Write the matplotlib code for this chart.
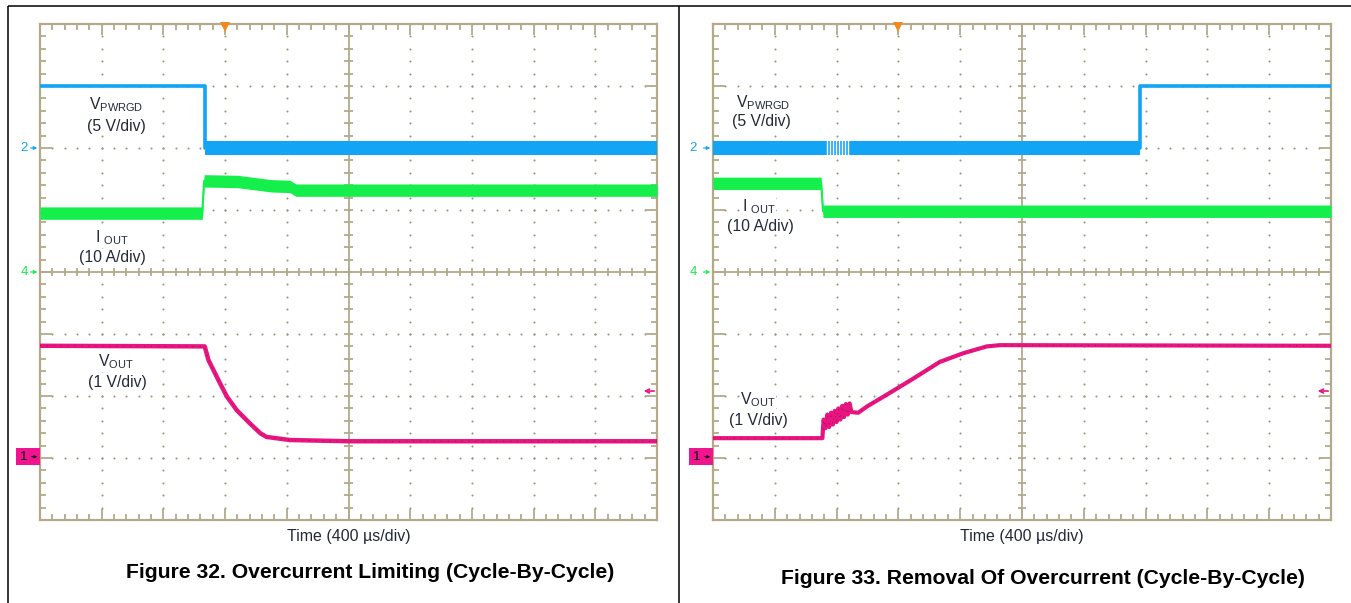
import matplotlib
matplotlib.use("Agg")
import matplotlib.pyplot as plt
import numpy as np
from matplotlib.collections import LineCollection
from matplotlib.patches import Rectangle

plt.rcParams["font.family"] = ["Liberation Sans", "DejaVu Sans"]
plt.rcParams["mathtext.fontset"] = "custom"
plt.rcParams["mathtext.rm"] = "Liberation Sans"

W, H = 1351, 603

BLUE = "#12a4f5"
GREEN = "#14ef4c"
PINK = "#e8147f"
FRAME = "#b3aa8c"
DOT = "#9c947a"
TEXT = "#24293a"

# --- data, in screen divisions (x: 0..10 time divs, y: -4..4 vertical divs) ---
# Figure 32 (left)
l_pwrgd_t = [0.0, 2.68, 2.68, 10.0]
l_pwrgd_v = [3.0, 3.0, 2.0, 2.0]
l_pwrgd_band_t = [2.68, 10.0]
l_pwrgd_band_lo = [1.88, 1.88]
l_pwrgd_band_hi = [2.12, 2.12]

l_iout_t = [0.0, 2.63, 2.66, 3.2, 3.75, 4.05, 4.15, 10.0]
l_iout_v = [0.95, 0.95, 1.47, 1.46, 1.39, 1.38, 1.32, 1.32]

l_vout_t = [0.0, 2.67, 2.73, 2.81, 2.92, 3.03, 3.19, 3.40, 3.57, 3.67, 4.05, 5.0, 10.0]
l_vout_v = [-1.19, -1.20, -1.42, -1.58, -1.80, -2.01, -2.23, -2.44, -2.60, -2.66, -2.71, -2.73, -2.73]

# Figure 33 (right)
r_pwrgd_t = [0.0, 6.91, 6.91, 10.0]
r_pwrgd_v = [2.0, 2.0, 3.0, 3.0]
r_pwrgd_band_t = [0.0, 6.91]
r_pwrgd_band_lo = [1.88, 1.88]
r_pwrgd_band_hi = [2.12, 2.12]
r_burst_t = [1.84, 1.89, 1.94, 1.99, 2.04, 2.09, 2.14, 2.18]

r_iout_t = [0.0, 1.75, 1.78, 10.0]
r_iout_v = [1.43, 1.43, 0.98, 0.98]

r_vout_t = [0.0, 1.77, 1.79, 1.82, 1.85, 1.88, 1.91, 1.94, 1.97, 2.00, 2.03, 2.06, 2.09,
            2.12, 2.15, 2.18, 2.21, 2.24, 2.35, 2.49, 2.81, 3.24, 3.67, 4.05, 4.43, 4.64, 10.0]
r_vout_v = [-2.68, -2.68, -2.38, -2.52, -2.30, -2.50, -2.27, -2.46, -2.24, -2.42, -2.20, -2.38, -2.16,
            -2.34, -2.13, -2.30, -2.12, -2.26, -2.27, -2.17, -1.98, -1.72, -1.45, -1.31, -1.20, -1.18, -1.19]

IOUT_HALF = 0.1
TRIGGER_T = 3.0
REF_ARROW_V = -1.92


def draw_graticule(ax):
    ax.set_xlim(0, 10)
    ax.set_ylim(-4, 4)
    ax.set_xticks([])
    ax.set_yticks([])
    for s in ax.spines.values():
        s.set_color(FRAME)
        s.set_linewidth(1.6)

    fine = np.round(np.arange(0, 10.01, 0.2), 2)
    fine_y = np.round(np.arange(-4, 4.01, 0.2), 2)
    # dotted grid at each major division
    dots_x, dots_y = [], []
    for gx in range(1, 10):
        if gx == 5:
            continue
        dots_x += [gx] * len(fine_y)
        dots_y += list(fine_y)
    for gy in range(-3, 4):
        if gy == 0:
            continue
        dots_x += list(fine)
        dots_y += [gy] * len(fine)
    ax.scatter(dots_x, dots_y, s=2.2, color=DOT, linewidths=0, zorder=1)

    segs = []
    # center cross with fine ticks
    segs.append([(0, 0), (10, 0)])
    segs.append([(5, -4), (5, 4)])
    for x in fine:
        segs.append([(x, -0.07), (x, 0.07)])
    for y in fine_y:
        segs.append([(5 - 0.07, y), (5 + 0.07, y)])
    # frame ticks
    for x in fine:
        major = abs(x - round(x)) < 1e-6
        ln = 0.18 if major else 0.09
        segs.append([(x, -4), (x, -4 + ln)])
        segs.append([(x, 4), (x, 4 - ln)])
    for y in fine_y:
        major = abs(y - round(y)) < 1e-6
        ln = 0.2 if major else 0.1
        segs.append([(0, y), (ln, y)])
        segs.append([(10, y), (10 - ln, y)])
    ax.add_collection(LineCollection(segs, colors=FRAME, linewidths=1.3, zorder=1))


def draw_markers(ax, x_label):
    # channel reference markers on the left edge
    ax.text(x_label, 2.0, "2", color=BLUE, fontsize=9.5, ha="center", va="center", clip_on=False)
    ax.annotate("", xy=(0.0, 2.0), xytext=(-0.2, 2.0), annotation_clip=False,
                arrowprops=dict(arrowstyle="-|>", color=BLUE, lw=0.8, mutation_scale=5))
    ax.text(x_label, 0.0, "4", color=GREEN, fontsize=9.5, ha="center", va="center", clip_on=False)
    ax.annotate("", xy=(0.0, 0.0), xytext=(-0.2, 0.0), annotation_clip=False,
                arrowprops=dict(arrowstyle="-|>", color=GREEN, lw=0.8, mutation_scale=5))
    ax.add_patch(Rectangle((-0.39, -3.11), 0.39, 0.27, facecolor="#f0148e",
                           edgecolor="none", clip_on=False, zorder=3))
    ax.text(-0.26, -2.98, "1", color="#111111", fontsize=9.5, ha="center", va="center",
            clip_on=False, zorder=4)
    ax.annotate("", xy=(0.0, -2.98), xytext=(-0.18, -2.98), annotation_clip=False,
                arrowprops=dict(arrowstyle="-|>", color="#111111", lw=0.7, mutation_scale=4),
                zorder=4)
    # trigger position and ref arrow
    ax.plot([TRIGGER_T], [3.95], marker="v", color="#f08a1e", markersize=7,
            markeredgewidth=0, clip_on=False, zorder=5)
    ax.annotate("", xy=(9.74, REF_ARROW_V), xytext=(10.0, REF_ARROW_V),
                arrowprops=dict(arrowstyle="->", color=PINK, lw=1.2, mutation_scale=7))


def label(ax, x, y, text, sub=None, fs=11.3):
    if sub:
        text = text + r"$_{\mathregular{" + sub + r"}}$"
    ax.text(x, y, text, color=TEXT, fontsize=fs, ha="center", va="center", zorder=6,
            bbox=dict(facecolor="white", edgecolor="none", pad=0.3))


fig = plt.figure(figsize=(W / 100, H / 100), dpi=100)
fig.patch.set_facecolor("white")

ax_l = fig.add_axes([40 / W, (H - 520) / H, 617 / W, 496 / H])
ax_r = fig.add_axes([713 / W, (H - 520) / H, 618 / W, 496 / H])

for ax in (ax_l, ax_r):
    draw_graticule(ax)

# left traces
ax_l.plot(l_pwrgd_t, l_pwrgd_v, color=BLUE, lw=2.6, zorder=3)
ax_l.fill_between(l_pwrgd_band_t, l_pwrgd_band_lo, l_pwrgd_band_hi, color=BLUE, lw=0, zorder=3)
lt = np.array(l_iout_t)
lv = np.array(l_iout_v)
ax_l.fill_between(lt, lv - IOUT_HALF, lv + IOUT_HALF, color=GREEN, lw=0, zorder=3)
ax_l.plot(lt, lv, color=GREEN, lw=1.5, zorder=3)
ax_l.plot(l_vout_t, l_vout_v, color=PINK, lw=3.2, zorder=4, solid_capstyle="butt")
ax_l.plot(l_vout_t, l_vout_v, color="#5a1030", lw=0.5, ls=(0, (1, 9)), zorder=4)

# right traces
ax_r.plot(r_pwrgd_t, r_pwrgd_v, color=BLUE, lw=2.6, zorder=3)
ax_r.fill_between(r_pwrgd_band_t, r_pwrgd_band_lo, r_pwrgd_band_hi, color=BLUE, lw=0, zorder=3)
ax_r.vlines(r_burst_t, 1.86, 2.14, color="white", lw=1.0, zorder=3)
rt = np.array(r_iout_t)
rv = np.array(r_iout_v)
ax_r.fill_between(rt, rv - IOUT_HALF, rv + IOUT_HALF, color=GREEN, lw=0, zorder=3)
ax_r.plot(rt, rv, color=GREEN, lw=1.5, zorder=3)
ax_r.plot(r_vout_t, r_vout_v, color=PINK, lw=3.0, zorder=4)
ax_r.plot(r_vout_t, r_vout_v, color="#5a1030", lw=0.5, ls=(0, (1, 9)), zorder=4)

draw_markers(ax_l, -0.26)
draw_markers(ax_r, -0.32)

label(ax_l, 1.23, 2.70, "V", "PWRGD")
label(ax_l, 1.24, 2.34, "(5 V/div)")
label(ax_l, 1.17, 0.55, "I ", "OUT")
label(ax_l, 1.18, 0.24, "(10 A/div)")
label(ax_l, 1.23, -1.45, "V", "OUT")
label(ax_l, 1.25, -1.79, "(1 V/div)")

label(ax_r, 0.81, 2.73, "V", "PWRGD")
label(ax_r, 0.79, 2.42, "(5 V/div)")
label(ax_r, 0.74, 1.05, "I ", "OUT")
label(ax_r, 0.76, 0.74, "(10 A/div)")
label(ax_r, 0.73, -2.06, "V", "OUT")
label(ax_r, 0.74, -2.39, "(1 V/div)")

fig.text(349 / W, 1 - 537 / H, "Time (400 µs/div)", color=TEXT, fontsize=11.5,
         ha="center", va="center")
fig.text(1022 / W, 1 - 537 / H, "Time (400 µs/div)", color=TEXT, fontsize=11.5,
         ha="center", va="center")
fig.text(370 / W, 1 - 572 / H, "Figure 32. Overcurrent Limiting (Cycle-By-Cycle)",
         color="black", fontsize=15.2, fontweight="bold", ha="center", va="center")
fig.text(1043 / W, 1 - 578 / H, "Figure 33. Removal Of Overcurrent (Cycle-By-Cycle)",
         color="black", fontsize=15.2, fontweight="bold", ha="center", va="center")

# panel borders
border = [[(8, H - 6), (W, H - 6)], [(8, H - 6), (8, 0)], [(679, H - 6), (679, 0)]]
border = [[(x / W, y / H) for x, y in seg] for seg in border]
fig.add_artist(LineCollection(border, colors="black", linewidths=1.1,
                              transform=fig.transFigure))

fig.savefig("out.png", dpi=100)
